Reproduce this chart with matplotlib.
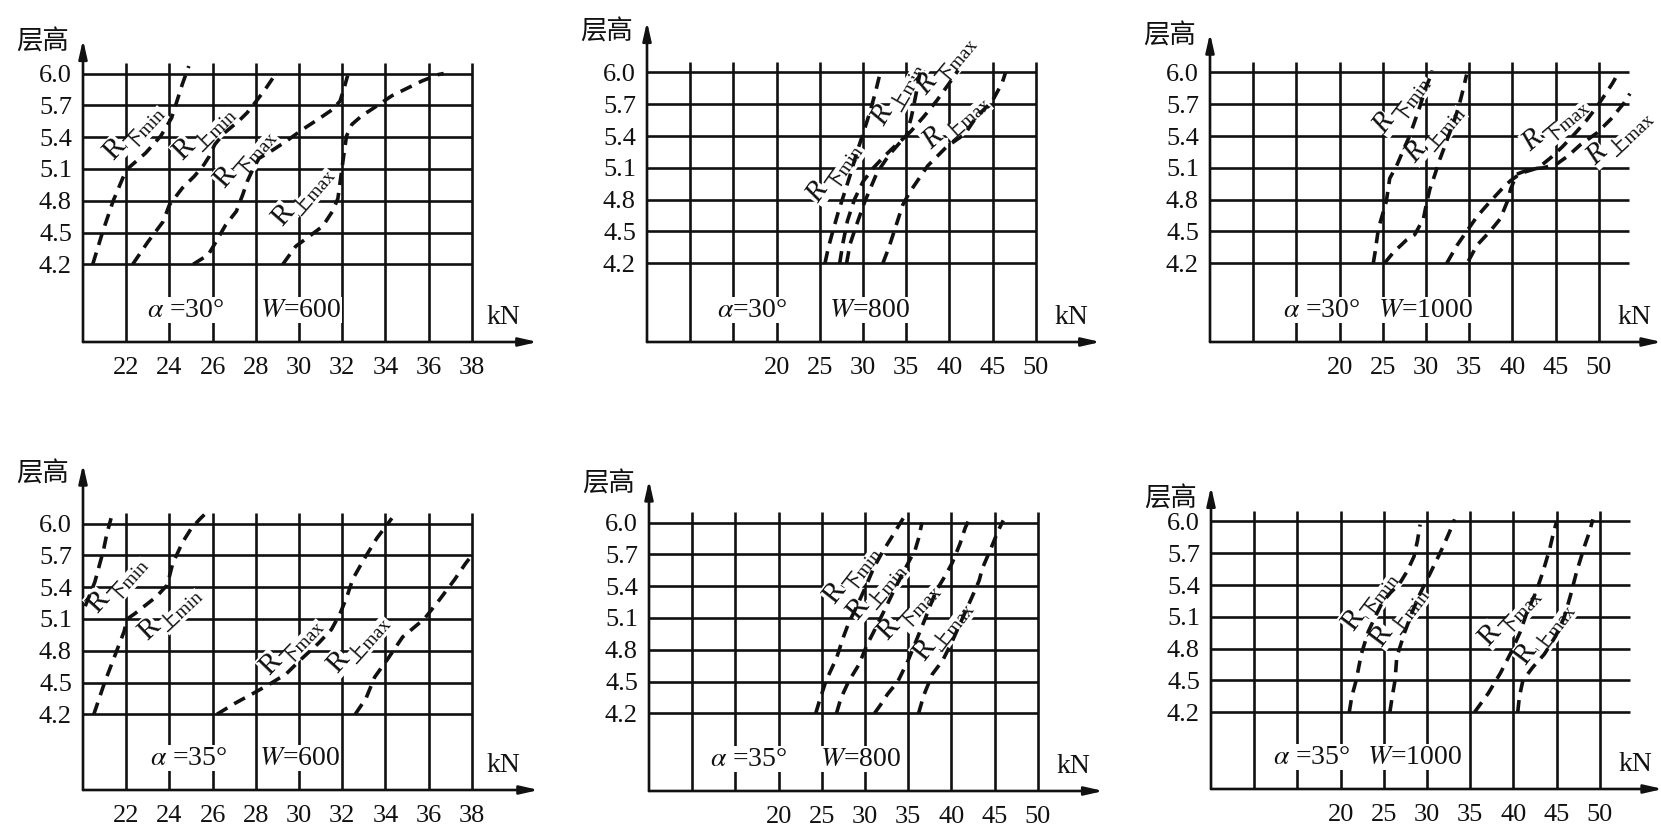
import numpy as np
import matplotlib.pyplot as plt

plt.rcParams['font.family'] = ['Liberation Serif', 'Noto Sans CJK SC']
plt.rcParams['mathtext.fontset'] = 'stix'

INK = '#111111'
FW, FH = 1661, 827
SY = 106.0

heights = [4.2, 4.5, 4.8, 5.1, 5.4, 5.7, 6.0]
kn_small = [22, 24, 26, 28, 30, 32, 34, 36, 38]
kn_big = [10, 15, 20, 25, 30, 35, 40, 45, 50]
kn_big_labels = ['', '', '20', '25', '30', '35', '40', '45', '50']

# alpha=30, W=600
p1_xmin_x = [20.45, 20.9, 21.4, 22.0, 22.9, 23.6, 24.1, 24.35, 24.6, 24.9]
p1_xmin_y = [4.2, 4.5, 4.8, 5.09, 5.25, 5.41, 5.58, 5.74, 5.9, 6.07]
p1_smin_x = [22.3, 23.0, 23.7, 24.0, 24.6, 25.15, 25.6, 25.85, 26.1, 26.55, 27.2, 27.6, 28.1, 28.5, 28.9]
p1_smin_y = [4.2, 4.41, 4.6, 4.76, 4.92, 5.03, 5.14, 5.22, 5.33, 5.44, 5.55, 5.63, 5.76, 5.87, 5.99]
p1_xmax_x = [25.1, 25.8, 26.15, 26.6, 27.1, 27.4, 27.6, 27.85, 28.15, 28.8, 29.4, 30.15, 30.9, 31.55, 31.9, 32.1, 32.25]
p1_xmax_y = [4.2, 4.29, 4.41, 4.57, 4.7, 4.86, 4.98, 5.09, 5.2, 5.28, 5.36, 5.47, 5.57, 5.66, 5.74, 5.87, 5.98]
p1_smax_x = [29.25, 29.85, 30.45, 31.1, 31.55, 31.8, 31.9, 32.0, 32.1, 32.2, 32.45, 32.9, 33.5, 34.3, 35.1, 35.7, 36.45, 36.7]
p1_smax_y = [4.2, 4.37, 4.46, 4.56, 4.7, 4.82, 4.97, 5.12, 5.27, 5.41, 5.52, 5.6, 5.68, 5.79, 5.87, 5.93, 5.99, 6.0]

# alpha=30, W=800
p2_xmin_x = [25.6, 26.0, 26.5, 27.2, 28.0, 28.7, 29.3, 30.0, 30.7, 31.4, 32.0]
p2_xmin_y = [4.2, 4.35, 4.5, 4.7, 4.9, 5.08, 5.25, 5.42, 5.6, 5.8, 6.0]
p2_smin_x = [27.3, 27.7, 28.2, 29.0, 30.0, 31.2, 32.6, 34.0, 35.0, 35.6, 36.1, 36.6]
p2_smin_y = [4.2, 4.4, 4.6, 4.8, 4.97, 5.1, 5.22, 5.33, 5.4, 5.58, 5.78, 6.0]
p2_xmax_x = [28.1, 28.5, 29.2, 30.2, 31.6, 33.0, 34.4, 35.6, 37.0, 38.5, 40.0, 41.0]
p2_xmax_y = [4.2, 4.38, 4.55, 4.78, 5.05, 5.22, 5.35, 5.45, 5.58, 5.73, 5.9, 6.02]
p2_smax_x = [32.3, 33.0, 33.6, 34.6, 35.4, 37.5, 39.7, 41.8, 43.2, 44.9, 46.1, 46.5]
p2_smax_y = [4.2, 4.35, 4.5, 4.75, 4.87, 5.12, 5.3, 5.42, 5.59, 5.72, 5.9, 6.0]

# alpha=30, W=1000
p3_xmin_x = [23.9, 24.1, 24.5, 25.4, 25.8, 26.6, 27.6, 28.1, 28.7, 29.3, 29.9, 30.5, 30.7]
p3_xmin_y = [4.2, 4.3, 4.53, 4.78, 5.0, 5.12, 5.31, 5.4, 5.54, 5.68, 5.84, 5.96, 6.02]
p3_smin_x = [25.2, 26.2, 27.75, 28.7, 29.7, 30.1, 30.45, 31.0, 31.6, 32.2, 32.6, 33.2, 33.8, 34.3, 34.7]
p3_smin_y = [4.2, 4.3, 4.42, 4.47, 4.62, 4.78, 4.9, 5.03, 5.18, 5.31, 5.4, 5.53, 5.68, 5.84, 5.98]
p3_xmax_x = [32.4, 33.6, 34.7, 35.9, 37.4, 39.0, 39.8, 41.0, 43.0, 44.5, 45.8, 47.2, 48.6, 49.8, 50.8, 51.6, 52.3]
p3_xmax_y = [4.2, 4.37, 4.5, 4.64, 4.78, 4.92, 4.98, 5.05, 5.1, 5.2, 5.3, 5.42, 5.55, 5.68, 5.8, 5.9, 6.0]
p3_smax_x = [34.9, 35.9, 37.4, 38.6, 39.4, 39.8, 40.5, 42.1, 43.6, 45.2, 46.4, 47.9, 49.8, 51.4, 52.9, 53.6]
p3_smax_y = [4.22, 4.37, 4.5, 4.62, 4.78, 4.9, 5.04, 5.09, 5.1, 5.14, 5.21, 5.32, 5.43, 5.56, 5.71, 5.8]

# alpha=35, W=600
p4_xmin_x = [20.1, 20.3, 20.55, 20.75, 20.95, 21.1, 21.3]
p4_xmin_y = [5.22, 5.32, 5.45, 5.6, 5.75, 5.9, 6.05]
p4_smin_x = [20.5, 20.75, 21.0, 21.3, 21.6, 21.9, 22.05, 22.4, 22.9, 23.4, 23.9, 24.15, 24.6, 25.0, 25.4, 25.7]
p4_smin_y = [4.2, 4.35, 4.5, 4.66, 4.82, 4.98, 5.1, 5.15, 5.23, 5.31, 5.42, 5.62, 5.82, 5.95, 6.04, 6.1]
p4_xmax_x = [26.2, 27.0, 27.9, 28.6, 29.4, 30.1, 30.9, 31.5, 31.9, 32.2, 32.5, 33.0, 33.6, 34.3]
p4_xmax_y = [4.2, 4.3, 4.4, 4.48, 4.58, 4.72, 4.87, 5.0, 5.15, 5.3, 5.48, 5.66, 5.86, 6.05]
p4_smax_x = [32.6, 33.1, 33.5, 34.1, 34.8, 35.8, 36.5, 37.2, 37.7, 38.0]
p4_smax_y = [4.2, 4.35, 4.55, 4.72, 4.93, 5.1, 5.28, 5.47, 5.62, 5.7]

# alpha=35, W=800
p5_xmin_x = [24.3, 24.7, 25.5, 26.7, 27.5, 28.1, 29.0, 30.0, 31.0, 32.0, 33.0, 33.9, 34.5]
p5_xmin_y = [4.2, 4.31, 4.51, 4.72, 4.92, 5.05, 5.2, 5.38, 5.57, 5.72, 5.85, 5.97, 6.05]
p5_smin_x = [26.7, 27.2, 28.1, 29.3, 30.2, 31.2, 32.3, 33.3, 34.3, 35.2, 35.8, 36.2, 36.6]
p5_smin_y = [4.2, 4.34, 4.5, 4.66, 4.84, 5.0, 5.18, 5.35, 5.51, 5.65, 5.74, 5.85, 6.0]
p5_xmax_x = [31.1, 31.8, 32.6, 33.8, 35.0, 36.0, 37.0, 38.2, 39.3, 40.1, 41.0, 41.6, 42.0]
p5_xmax_y = [4.2, 4.28, 4.38, 4.5, 4.7, 4.9, 5.1, 5.35, 5.5, 5.62, 5.8, 5.95, 6.02]
p5_smax_x = [36.2, 36.8, 37.8, 39.0, 40.1, 41.3, 42.4, 43.2, 43.6, 44.7, 45.4, 46.0]
p5_smax_y = [4.2, 4.37, 4.57, 4.7, 4.88, 5.1, 5.3, 5.45, 5.57, 5.78, 5.92, 6.02]

# alpha=35, W=1000
p6_xmin_x = [21.0, 21.3, 21.8, 22.4, 23.2, 24.0, 24.85, 25.8, 26.8, 27.7, 28.5, 28.9, 29.2]
p6_xmin_y = [4.2, 4.35, 4.5, 4.75, 4.96, 5.1, 5.24, 5.33, 5.41, 5.53, 5.67, 5.82, 5.97]
p6_smin_x = [25.7, 26.0, 26.3, 26.5, 27.4, 28.3, 29.2, 30.3, 31.2, 31.9, 32.6, 33.2]
p6_smin_y = [4.2, 4.36, 4.5, 4.72, 4.95, 5.15, 5.32, 5.5, 5.65, 5.77, 5.9, 6.02]
p6_xmax_x = [35.5, 37.1, 38.5, 39.7, 40.8, 41.6, 42.6, 43.4, 44.2, 44.6, 45.0]
p6_xmax_y = [4.2, 4.38, 4.57, 4.76, 4.96, 5.15, 5.33, 5.52, 5.74, 5.88, 6.0]
p6_smax_x = [40.5, 40.7, 41.1, 42.2, 43.6, 44.9, 45.9, 46.6, 47.3, 48.2, 48.8, 49.2]
p6_smax_y = [4.2, 4.35, 4.5, 4.62, 4.75, 4.92, 5.1, 5.3, 5.52, 5.76, 5.9, 6.02]

WHITE = dict(facecolor='white', edgecolor='none', pad=0.3)

fig = plt.figure(figsize=(FW / 100, FH / 100), dpi=100)


def r_label(ax, x, y, sub, ang, italic):
    ax.annotate('R', (x, y), rotation=ang, rotation_mode='anchor', ha='left', va='baseline',
                fontsize=21, fontstyle='italic' if italic else 'normal', color=INK, zorder=3, bbox=WHITE)
    a = np.deg2rad(ang)
    d, s = 15.0, 5.0
    ax.annotate(sub, (x, y), xytext=(d * np.cos(a) + s * np.sin(a), d * np.sin(a) - s * np.cos(a)),
                textcoords='offset points', rotation=ang, rotation_mode='anchor', ha='left',
                va='baseline', fontsize=14, color=INK, zorder=3, bbox=WHITE)


def panel(ox, oy, x0, xmax, ybot, ymax, small, grid_end, curves, labels, alpha_txt, w_txt,
          ax_x, w_x, ylab_y, italic):
    sx = 21.6 if small else 8.64
    w = (xmax - x0) * sx
    h = (ymax - ybot) * SY
    ax = fig.add_axes([ox / FW, 1 - oy / FH, w / FW, h / FH])
    ax.set_xlim(x0, xmax)
    ax.set_ylim(ybot, ymax)
    for sp in ax.spines.values():
        sp.set_visible(False)
    ax.patch.set_visible(False)

    xs = kn_small if small else kn_big
    ax.set_xticks(xs)
    ax.set_xticklabels([str(v) for v in xs] if small else kn_big_labels)
    ax.set_yticks(heights)
    ax.set_yticklabels(['%.1f' % v for v in heights])
    ax.tick_params(axis='x', length=0, labelsize=19, pad=11, colors=INK)
    ax.tick_params(axis='y', length=0, labelsize=19, pad=8, colors=INK)

    ax.hlines(heights, x0, grid_end, color=INK, lw=1.9, zorder=1)
    ax.vlines(xs, ybot, 6.1, color=INK, lw=1.9, zorder=1)

    arrow = dict(arrowstyle='-|>,head_length=1.1,head_width=0.25', lw=1.9, color=INK,
                 shrinkA=0, shrinkB=0)
    ax.annotate('', xy=(xmax, ybot), xytext=(x0, ybot), arrowprops=arrow, annotation_clip=False)
    ax.annotate('', xy=(x0, ymax), xytext=(x0, ybot), arrowprops=arrow, annotation_clip=False)

    for cx, cy in curves:
        ax.plot(cx, cy, color=INK, lw=2.6, linestyle=(0, (3.4, 2.2)), zorder=4)

    for (lx, ly, ang), sub in zip(labels, ['下min', '上min', '下max', '上max']):
        r_label(ax, lx, ly, sub, ang, italic)

    ytxt = ybot + 0.3
    ax.text(ax_x, ytxt, alpha_txt, fontsize=20, va='center', ha='left', color=INK, zorder=3, bbox=WHITE)
    ax.text(w_x, ytxt, w_txt, fontsize=20, va='center', ha='left', color=INK, zorder=3, bbox=WHITE)
    kn_x = 38.7 if small else 52.2
    ax.text(kn_x, ybot + 0.23, 'kN', fontsize=20, va='center', ha='left', color=INK)
    ax.text(x0 - (14 / sx), ylab_y, '层高', fontsize=19, va='center', ha='right', color=INK)
    return ax


panel(83, 342, 20, 41.05, 3.467, 6.32, True, 38,
      [(p1_xmin_x, p1_xmin_y), (p1_smin_x, p1_smin_y), (p1_xmax_x, p1_xmax_y), (p1_smax_x, p1_smax_y)],
      [(21.4, 5.17, 47), (24.6, 5.17, 45), (26.55, 4.91, 49), (29.2, 4.55, 49)],
      r'$\alpha$ =30°', r'$W$=600', 22.95, 28.2, 6.30, False)

panel(647, 342, 5, 57.5, 3.457, 6.48, False, 50,
      [(p2_xmin_x, p2_xmin_y), (p2_smin_x, p2_smin_y), (p2_xmax_x, p2_xmax_y), (p2_smax_x, p2_smax_y)],
      [(24.8, 4.76, 55), (32.5, 5.49, 60), (37.3, 5.78, 50), (37.9, 5.27, 42)],
      r'$\alpha$=30°', r'$W$=800', 13.1, 26.1, 6.38, True)

panel(1210, 342, 5, 57.3, 3.457, 6.37, False, 53.5,
      [(p3_xmin_x, p3_xmin_y), (p3_smin_x, p3_smin_y), (p3_xmax_x, p3_xmax_y), (p3_smax_x, p3_smax_y)],
      [(25.2, 5.41, 53), (28.7, 5.14, 50), (42.1, 5.25, 40), (49.6, 5.12, 43)],
      r'$\alpha$ =30°', r'$W$=1000', 13.4, 24.5, 6.34, True)

panel(83, 790, 20, 41.1, 3.486, 6.56, True, 38,
      [(p4_xmin_x, p4_xmin_y), (p4_smin_x, p4_smin_y), (p4_xmax_x, p4_xmax_y), (p4_smax_x, p4_smax_y)],
      [(20.65, 5.15, 48), (22.95, 4.89, 43), (28.6, 4.56, 46), (31.75, 4.58, 48)],
      r'$\alpha$ =35°', r'$W$=600', 23.1, 28.15, 6.47, False)

panel(649, 791, 5, 57.6, 3.467, 6.40, False, 50,
      [(p5_xmin_x, p5_xmin_y), (p5_smin_x, p5_smin_y), (p5_xmax_x, p5_xmax_y), (p5_smax_x, p5_smax_y)],
      [(26.4, 5.22, 52), (29.1, 5.07, 50), (32.6, 4.88, 47), (36.8, 4.68, 52)],
      r'$\alpha$ =35°', r'$W$=800', 12.1, 24.8, 6.36, False)

panel(1211, 789, 5, 57.3, 3.476, 6.33, False, 53.5,
      [(p6_xmin_x, p6_xmin_y), (p6_smin_x, p6_smin_y), (p6_xmax_x, p6_xmax_y), (p6_smax_x, p6_smax_y)],
      [(21.4, 4.96, 53), (24.7, 4.81, 53), (37.1, 4.82, 47), (41.4, 4.64, 53)],
      r'$\alpha$ =35°', r'$W$=1000', 12.2, 23.0, 6.21, False)

fig.savefig('out.png', dpi=100)
